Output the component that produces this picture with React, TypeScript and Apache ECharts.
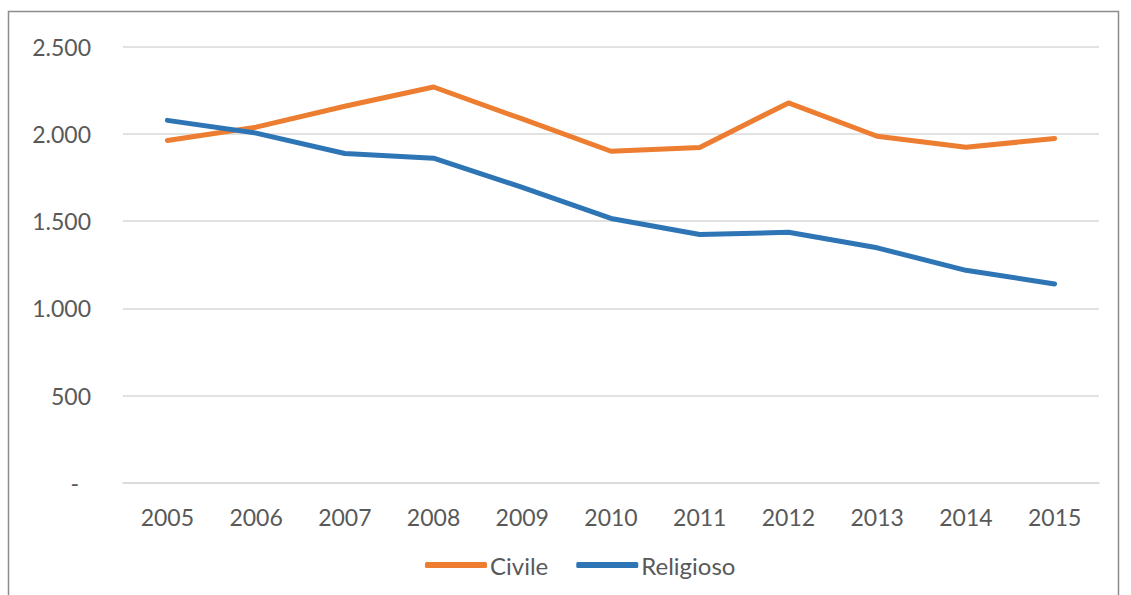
import React, { useEffect, useRef } from "react";
import * as echarts from "echarts";

const years = ["2005", "2006", "2007", "2008", "2009", "2010", "2011", "2012", "2013", "2014", "2015"];
const civile = [1962, 2038, 2158, 2268, 2085, 1900, 1922, 2177, 1986, 1923, 1973];
const religioso = [2077, 2004, 1887, 1860, 1693, 1515, 1423, 1436, 1347, 1218, 1140];
const seriesNames = ["Civile", "Religioso"];
const colors = ["#ED7D31", "#2E75B6"];

const fmt = (v: number) => {
  if (v === 0) return "{z|-}";
  const s = String(Math.round(v));
  return s.length > 3 ? s.slice(0, s.length - 3) + "." + s.slice(s.length - 3) : s;
};

export default function App() {
  const ref = useRef<HTMLDivElement>(null);
  useEffect(() => {
    if (!ref.current) return;
    const chart = echarts.init(ref.current, undefined, { renderer: "svg" });
    const font = "Lato, 'Open Sans', sans-serif";
    chart.setOption({
      animation: false,
      backgroundColor: "#ffffff",
      graphic: [
        {
          type: "rect",
          shape: { x: 8.5, y: 11.5, width: 1110, height: 600 },
          style: { fill: "none", stroke: "#8c8c8c", lineWidth: 1.5 },
          silent: true,
        },
      ],
      grid: { left: 123, right: 32, top: 46.5, bottom: 112, containLabel: false },
      legend: {
        left: 420,
        top: 548,
        itemWidth: 62,
        itemHeight: 6,
        itemGap: 28,
        icon: "roundRect",
        data: seriesNames,
        textStyle: { color: "#595959", fontSize: 24, fontFamily: font, padding: [0, 0, 0, -2] },
      },
      xAxis: {
        type: "category",
        data: years,
        boundaryGap: true,
        axisLine: { lineStyle: { color: "#D9D9D9", width: 1.5 } },
        axisTick: { show: false },
        axisLabel: { color: "#595959", fontSize: 23, fontFamily: font, margin: 22 },
      },
      yAxis: {
        type: "value",
        min: 0,
        max: 2500,
        interval: 500,
        axisLine: { show: false },
        axisTick: { show: false },
        splitLine: { lineStyle: { color: "#D9D9D9", width: 1.5 } },
        axisLabel: {
          color: "#595959",
          fontSize: 23,
          fontFamily: font,
          margin: 32,
          formatter: fmt,
          rich: { z: { color: "#595959", fontSize: 23, fontFamily: font, padding: [0, 12, 0, 0] } },
        },
      },
      series: [
        {
          name: seriesNames[0],
          type: "line",
          data: civile,
          symbol: "none",
          lineStyle: { color: colors[0], width: 5, cap: "round", join: "round" },
          itemStyle: { color: colors[0] },
        },
        {
          name: seriesNames[1],
          type: "line",
          data: religioso,
          symbol: "none",
          lineStyle: { color: colors[1], width: 5, cap: "round", join: "round" },
          itemStyle: { color: colors[1] },
        },
      ],
    });
    return () => chart.dispose();
  }, []);
  return (
    <div
      ref={ref}
      style={{ position: "absolute", left: 0, top: 0, width: 1131, height: 595 }}
    />
  );
}
